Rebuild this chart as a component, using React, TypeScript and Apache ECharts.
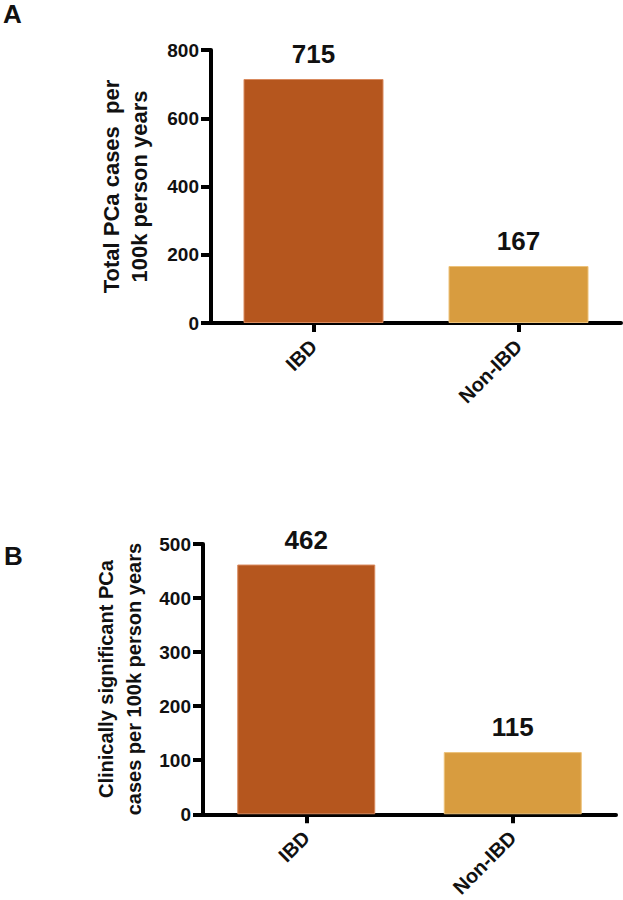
import React, { useEffect, useRef } from "react";
import * as echarts from "echarts";

const categories = ["IBD", "Non-IBD"];
const totalCases = [715, 167];
const significantCases = [462, 115];
const barColors = ["#B5561E", "#D89C3F"];
const barBorders = ["#D98A5E", "#EDC27A"];
const yTicksA = [0, 200, 400, 600, 800];
const yTicksB = [0, 100, 200, 300, 400, 500];
const titleA = "Total PCa cases  per\n100k person years";
const titleB = "Clinically significant PCa\ncases per 100k person years";

const FONT = "'Liberation Sans', Arial, Helvetica, sans-serif";

function barData(values: number[]) {
  return values.map((v, i) => ({
    value: v,
    itemStyle: { color: barColors[i], borderColor: barBorders[i], borderWidth: 1 },
  }));
}

function yAxis(gridIndex: number, ticks: number[], name: string, nameGap: number, nameSize: number) {
  const interval = ticks[1] - ticks[0];
  return {
    type: "value",
    gridIndex,
    min: ticks[0],
    max: ticks[ticks.length - 1],
    interval,
    name,
    nameLocation: "middle",
    nameRotate: 90,
    nameGap,
    nameTextStyle: {
      fontFamily: FONT,
      fontWeight: "bold",
      fontSize: nameSize,
      color: "#111",
      lineHeight: 28,
      align: "center",
    },
    axisLine: { show: true, lineStyle: { color: "#000", width: 4 } },
    axisTick: { show: true, length: 10, lineStyle: { color: "#000", width: 4 } },
    splitLine: { show: false },
    axisLabel: {
      fontFamily: FONT,
      fontWeight: "bold",
      fontSize: 19,
      color: "#111",
      margin: 12,
    },
  };
}

function xAxis(gridIndex: number) {
  return {
    type: "category",
    gridIndex,
    data: categories,
    axisLine: { show: true, lineStyle: { color: "#000", width: 4 } },
    axisTick: { show: true, alignWithLabel: true, length: 9, lineStyle: { color: "#000", width: 4 } },
    axisLabel: {
      rotate: 45,
      margin: 20,
      fontFamily: FONT,
      fontWeight: "bold",
      fontSize: 20,
      color: "#111",
    },
  };
}

function series(xi: number, values: number[], barWidth: number) {
  return {
    type: "bar",
    xAxisIndex: xi,
    yAxisIndex: xi,
    data: barData(values),
    barWidth,
    label: {
      show: true,
      position: "top",
      distance: 12,
      fontFamily: FONT,
      fontWeight: "bold",
      fontSize: 26,
      color: "#111",
    },
  };
}

export default function App() {
  const ref = useRef<HTMLDivElement>(null);
  useEffect(() => {
    if (!ref.current) return;
    const chart = echarts.init(ref.current, null, { renderer: "svg" });
    chart.setOption({
      animation: false,
      backgroundColor: "#fff",
      grid: [
        { left: 211, top: 50, width: 410, height: 273 },
        { left: 203, top: 544, width: 413, height: 271 },
      ],
      xAxis: [xAxis(0), xAxis(1)],
      yAxis: [yAxis(0, yTicksA, titleA, 58, 22), yAxis(1, yTicksB, titleB, 50, 20)],
      series: [series(0, totalCases, 140), series(1, significantCases, 138)],
      graphic: [
        {
          type: "text",
          left: 3,
          top: 1,
          style: { text: "A", fontFamily: FONT, fontWeight: "bold", fontSize: 26, fill: "#111" },
        },
        {
          type: "text",
          left: 4,
          top: 543,
          style: { text: "B", fontFamily: FONT, fontWeight: "bold", fontSize: 26, fill: "#111" },
        },
      ],
    });
    return () => chart.dispose();
  }, []);
  return (
    <div
      ref={ref}
      style={{ position: "fixed", left: 0, top: 0, width: 623, height: 900, background: "#fff" }}
    />
  );
}
